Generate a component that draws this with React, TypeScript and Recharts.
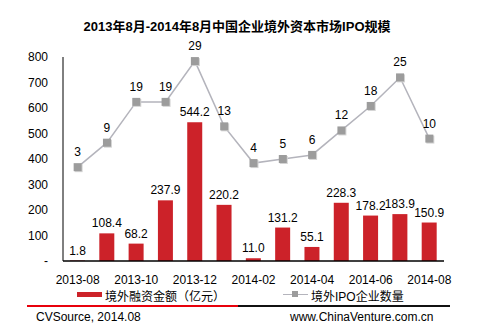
import React from 'react';
import { ComposedChart, Bar, Line, XAxis, YAxis, LabelList } from 'recharts';

// 月份
const months = [
  '2013-08', '2013-09', '2013-10', '2013-11', '2013-12', '2014-01', '2014-02',
  '2014-03', '2014-04', '2014-05', '2014-06', '2014-07', '2014-08',
];
// 境外融资金额（亿元）
const financing = [1.8, 108.4, 68.2, 237.9, 544.2, 220.2, 11.0, 131.2, 55.1, 228.3, 178.2, 183.9, 150.9];
// 境外IPO企业数量
const ipoCount = [3, 9, 19, 19, 29, 13, 4, 5, 6, 12, 18, 25, 10];
// 左轴刻度
const leftTicks = [0, 100, 200, 300, 400, 500, 600, 700, 800];

const data = months.map((m, i) => ({ month: m, amount: financing[i], count: ipoCount[i] }));

const FONT = '"Liberation Sans", Arial, "Noto Sans CJK SC", sans-serif';
const RED = '#cc2229';
const GRAY_LINE = '#b4b4bc';
const GRAY_DOT = '#9c9c9c';

const SquareDot = (props: any) => {
  const { cx, cy } = props;
  if (cx == null || cy == null) return null;
  return (
    <g>
      <rect x={cx - 3} y={cy - 3} width={8} height={8} fill="#d4d4d4" />
      <rect x={cx - 4} y={cy - 4} width={8} height={8} fill={GRAY_DOT} />
    </g>
  );
};

const App = () => {
  return (
    <div style={{ position: 'absolute', left: 0, top: 0, width: 500, height: 329, background: '#fff', fontFamily: FONT }}>
      <div style={{ position: 'absolute', left: 0, top: 16, width: 474, textAlign: 'center', fontSize: 13, fontWeight: 'bold', color: '#000' }}>
        2013年8月-2014年8月中国企业境外资本市场IPO规模
      </div>

      <ComposedChart width={500} height={329} data={data} margin={{ top: 57, right: 56, left: 0, bottom: 38 }}>
        <XAxis
          dataKey="month"
          interval={1}
          tickLine={false}
          tickSize={0}
          tickMargin={14}
          axisLine={{ stroke: '#000', strokeWidth: 1.5 }}
          tick={{ fill: '#000', fontSize: 12, fontFamily: FONT }}
          height={30}
        />
        <YAxis
          yAxisId="left"
          domain={[0, 800]}
          ticks={leftTicks}
          tickFormatter={(v: number) => (v === 0 ? '-' : String(v))}
          tickLine={false}
          tickSize={0}
          tickMargin={15}
          axisLine={{ stroke: '#000', strokeWidth: 1 }}
          tick={{ fill: '#000', fontSize: 12, fontFamily: FONT }}
          width={63}
        />
        <YAxis yAxisId="right" orientation="right" domain={[-20, 30]} hide />
        <Bar yAxisId="left" dataKey="amount" fill={RED} barSize={15} isAnimationActive={false}>
          <LabelList
            dataKey="amount"
            position="top"
            offset={6}
            formatter={(v: any) => Number(v).toFixed(1)}
            style={{ fill: '#000', fontSize: 12, fontFamily: FONT }}
          />
        </Bar>
        <Line
          yAxisId="right"
          dataKey="count"
          stroke={GRAY_LINE}
          strokeWidth={1.5}
          dot={<SquareDot />}
          activeDot={false}
          isAnimationActive={false}
        >
          <LabelList
            dataKey="count"
            position="top"
            offset={11}
            style={{ fill: '#000', fontSize: 12, fontFamily: FONT }}
          />
        </Line>
      </ComposedChart>

      {/* 图例 */}
      <div style={{ position: 'absolute', left: 77, top: 292, width: 25, height: 5, background: RED }} />
      <div style={{ position: 'absolute', left: 105, top: 287, fontSize: 12, color: '#000', whiteSpace: 'nowrap' }}>
        境外融资金额（亿元）
      </div>
      <div style={{ position: 'absolute', left: 283, top: 294, width: 25, height: 1, background: GRAY_LINE }} />
      <div style={{ position: 'absolute', left: 292, top: 291, width: 6, height: 6, background: GRAY_DOT }} />
      <div style={{ position: 'absolute', left: 311, top: 287, fontSize: 12, color: '#000', whiteSpace: 'nowrap' }}>
        境外IPO企业数量
      </div>

      {/* 底部 */}
      <div style={{ position: 'absolute', left: 27, top: 305, width: 211, height: 2, background: '#e8000b' }} />
      <div style={{ position: 'absolute', left: 238, top: 305, width: 212, height: 2, background: '#111' }} />
      <div style={{ position: 'absolute', left: 36, top: 310, fontSize: 12, color: '#000', whiteSpace: 'nowrap' }}>
        CVSource, 2014.08
      </div>
      <div style={{ position: 'absolute', left: 290, top: 310, fontSize: 12, color: '#000', whiteSpace: 'nowrap' }}>
        www.ChinaVenture.com.cn
      </div>
    </div>
  );
};

export default App;
